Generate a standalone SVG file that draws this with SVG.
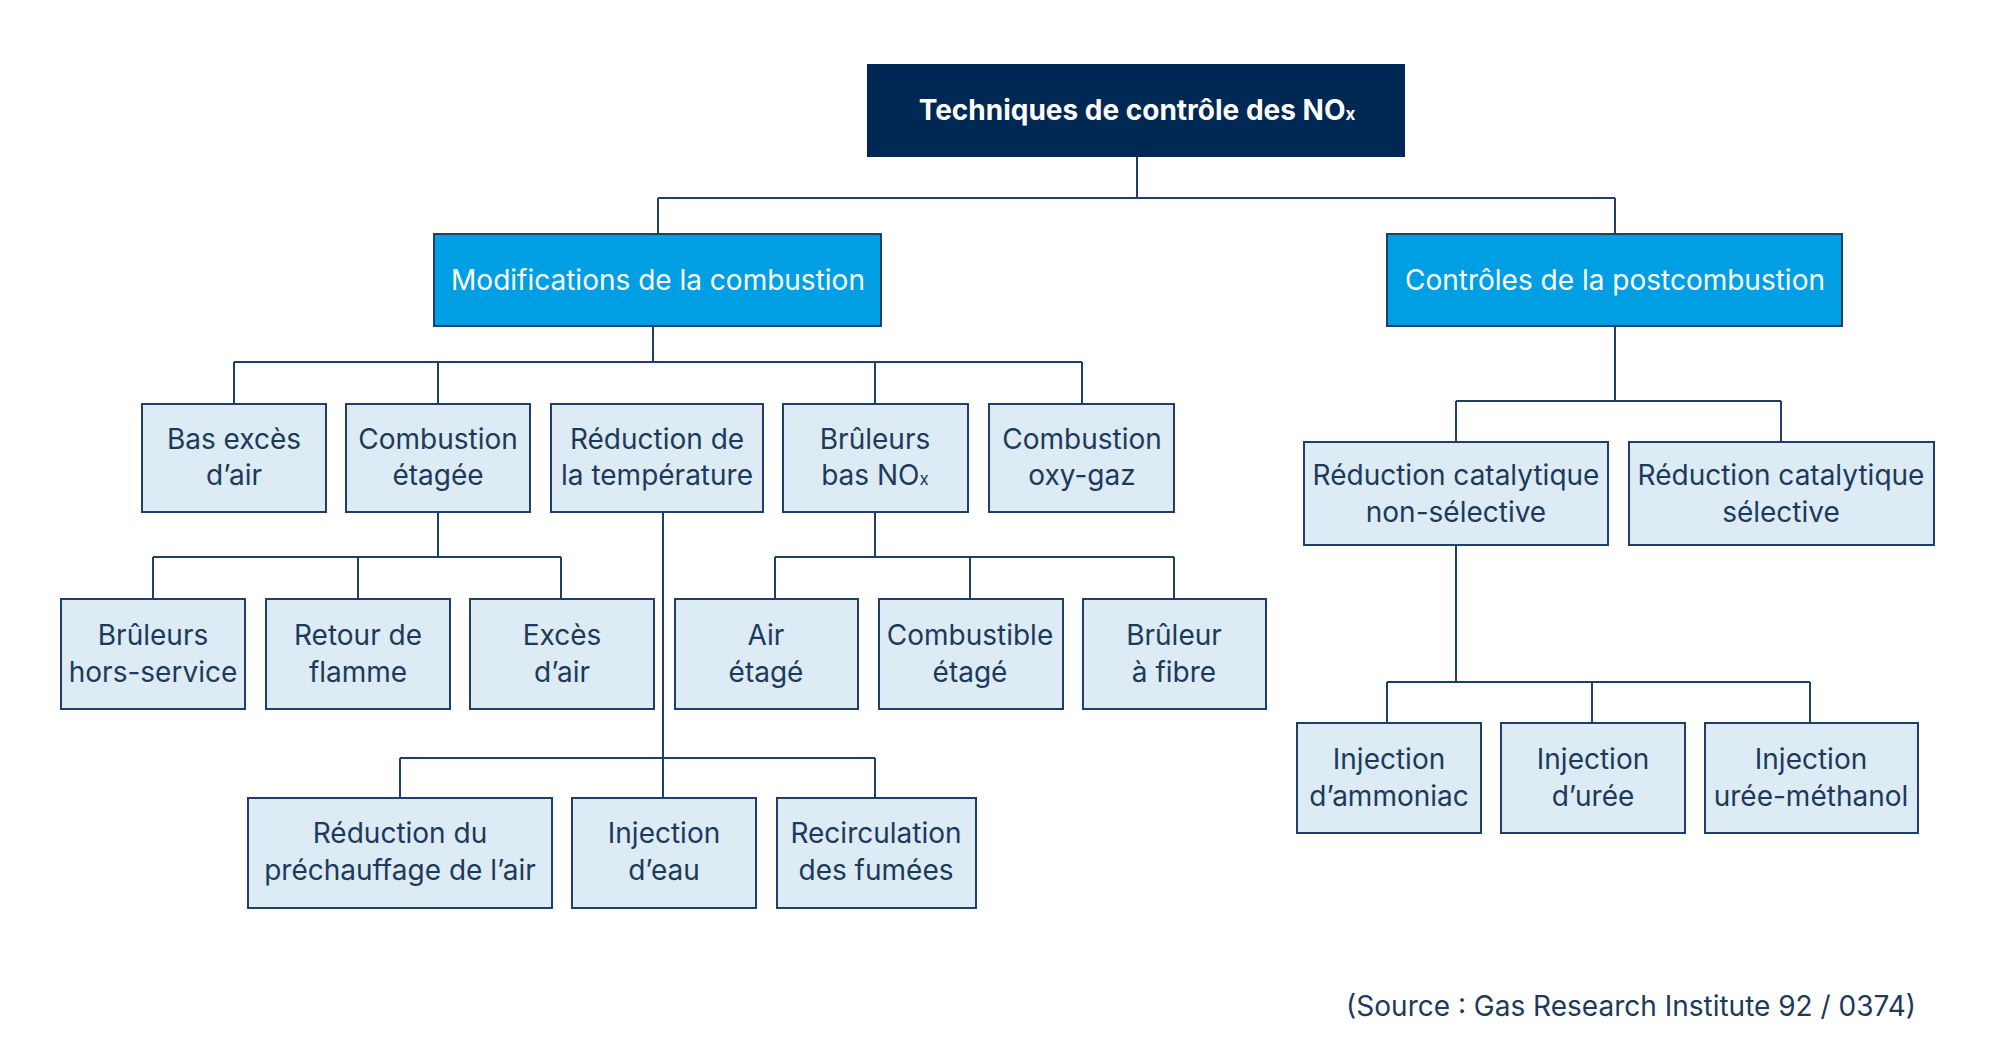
<svg xmlns="http://www.w3.org/2000/svg" width="2000" height="1049" viewBox="0 0 2000 1049">
<style>
text{font-family:Inter,"Liberation Sans",sans-serif;font-size:28px;text-anchor:middle}
.lb{fill:#dcebf4;stroke:#1f3f66;stroke-width:2}
.lt{fill:#1d3a5c}
.c{fill:none;stroke:#1f3f66;stroke-width:2}
.s{font-size:17px}
</style>
<rect width="2000" height="1049" fill="#fff"/>
<g id="connectors" class="c">
<path d="M1137 157V198M658 198H1615M658 198V234M1615 198V234"/>
<path d="M653 326V362M234 362H1082M234 362V404M438 362V404M875 362V404M1082 362V404"/>
<path d="M438 512V557M153 557H561M153 557V599M358 557V599M561 557V599"/>
<path d="M875 512V557M775 557H1174M775 557V599M970 557V599M1174 557V599"/>
<path d="M663 512V798M400 758H875M400 758V798M875 758V798"/>
<path d="M1615 326V401M1456 401H1781M1456 401V442M1781 401V442"/>
<path d="M1456 545V682M1387 682H1810M1387 682V723M1592 682V723M1810 682V723"/>
</g>
<g id="root"><rect x="867" y="64" width="538" height="93" fill="#002855"/><text x="1137" y="120" fill="#fff" font-weight="bold">Techniques de contrôle des NO<tspan class="s">x</tspan></text></g>
<g id="modif"><rect x="434" y="234" width="447" height="92" fill="#009fe3" stroke="#1f3f66" stroke-width="2"/><text x="658" y="290" fill="#fff">Modifications de la combustion</text></g>
<g id="post"><rect x="1387" y="234" width="455" height="92" fill="#009fe3" stroke="#1f3f66" stroke-width="2"/><text x="1615" y="290" fill="#fff">Contrôles de la postcombustion</text></g>
<g id="n1"><rect class="lb" x="142" y="404" width="184" height="108"/><text class="lt" x="234" y="449">Bas excès</text><text class="lt" x="234" y="485">d’air</text></g>
<g id="n2"><rect class="lb" x="346" y="404" width="184" height="108"/><text class="lt" x="438" y="449">Combustion</text><text class="lt" x="438" y="485">étagée</text></g>
<g id="n3"><rect class="lb" x="551" y="404" width="212" height="108"/><text class="lt" x="657" y="449">Réduction de</text><text class="lt" x="657" y="485">la température</text></g>
<g id="n4"><rect class="lb" x="783" y="404" width="185" height="108"/><text class="lt" x="875" y="449">Brûleurs</text><text class="lt" x="875" y="485">bas NO<tspan class="s">x</tspan></text></g>
<g id="n5"><rect class="lb" x="989" y="404" width="185" height="108"/><text class="lt" x="1082" y="449">Combustion</text><text class="lt" x="1082" y="485">oxy-gaz</text></g>
<g id="n6"><rect class="lb" x="1304" y="442" width="304" height="103"/><text class="lt" x="1456" y="485">Réduction catalytique</text><text class="lt" x="1456" y="522">non-sélective</text></g>
<g id="n7"><rect class="lb" x="1629" y="442" width="305" height="103"/><text class="lt" x="1781" y="485">Réduction catalytique</text><text class="lt" x="1781" y="522">sélective</text></g>
<g id="n8"><rect class="lb" x="61" y="599" width="184" height="110"/><text class="lt" x="153" y="645">Brûleurs</text><text class="lt" x="153" y="682">hors-service</text></g>
<g id="n9"><rect class="lb" x="266" y="599" width="184" height="110"/><text class="lt" x="358" y="645">Retour de</text><text class="lt" x="358" y="682">flamme</text></g>
<g id="n10"><rect class="lb" x="470" y="599" width="184" height="110"/><text class="lt" x="562" y="645">Excès</text><text class="lt" x="562" y="682">d’air</text></g>
<g id="n11"><rect class="lb" x="675" y="599" width="183" height="110"/><text class="lt" x="766" y="645">Air</text><text class="lt" x="766" y="682">étagé</text></g>
<g id="n12"><rect class="lb" x="879" y="599" width="184" height="110"/><text class="lt" x="970" y="645">Combustible</text><text class="lt" x="970" y="682">étagé</text></g>
<g id="n13"><rect class="lb" x="1083" y="599" width="183" height="110"/><text class="lt" x="1174" y="645">Brûleur</text><text class="lt" x="1174" y="682">à fibre</text></g>
<g id="n14"><rect class="lb" x="248" y="798" width="304" height="110"/><text class="lt" x="400" y="843">Réduction du</text><text class="lt" x="400" y="880">préchauffage de l’air</text></g>
<g id="n15"><rect class="lb" x="572" y="798" width="184" height="110"/><text class="lt" x="664" y="843">Injection</text><text class="lt" x="664" y="880">d’eau</text></g>
<g id="n16"><rect class="lb" x="777" y="798" width="199" height="110"/><text class="lt" x="876" y="843">Recirculation</text><text class="lt" x="876" y="880">des fumées</text></g>
<g id="n17"><rect class="lb" x="1297" y="723" width="184" height="110"/><text class="lt" x="1389" y="769">Injection</text><text class="lt" x="1389" y="806">d’ammoniac</text></g>
<g id="n18"><rect class="lb" x="1501" y="723" width="184" height="110"/><text class="lt" x="1593" y="769">Injection</text><text class="lt" x="1593" y="806">d’urée</text></g>
<g id="n19"><rect class="lb" x="1705" y="723" width="213" height="110"/><text class="lt" x="1811" y="769">Injection</text><text class="lt" x="1811" y="806">urée-méthanol</text></g>
<text x="1916" y="1016" class="lt" style="text-anchor:end">(Source : Gas Research Institute 92 / 0374)</text>
</svg>
